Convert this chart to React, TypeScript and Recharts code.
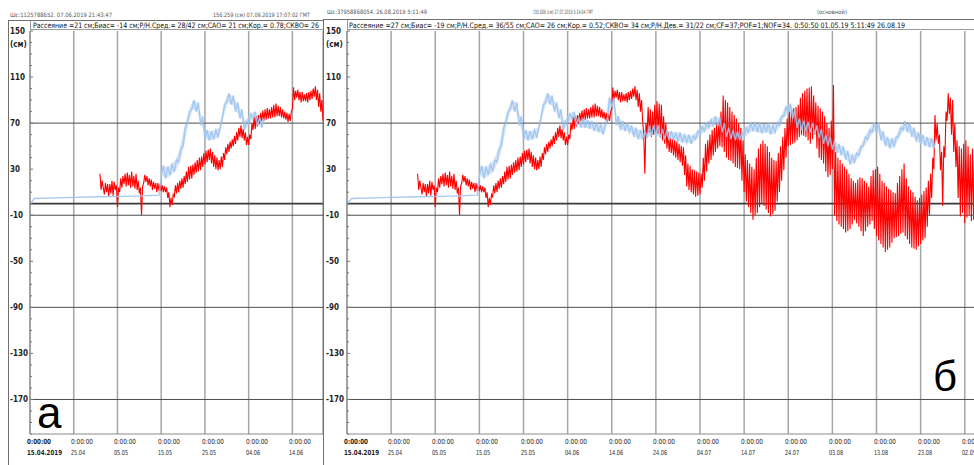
import React from "react";
import { ComposedChart, Line, Area, XAxis, YAxis, CartesianGrid, ReferenceLine } from "recharts";

const FONT = "'Liberation Sans Narrow', 'DejaVu Sans Condensed', 'Liberation Sans', Arial, sans-serif";

// x axis: days counted from 15.04.2019 0:00:00
const tickDays = [0, 10, 20, 30, 40, 50, 60, 70, 80, 90, 100, 110, 120, 130, 140];
const tickTimes = ["0:00:00", "0:00:00", "0:00:00", "0:00:00", "0:00:00", "0:00:00", "0:00:00", "0:00:00",
  "0:00:00", "0:00:00", "0:00:00", "0:00:00", "0:00:00", "0:00:00", "0:00:00"];
const tickDates = ["15.04.2019", "25.04", "05.05", "15.05", "25.05", "04.06", "14.06", "24.06",
  "04.07", "14.07", "24.07", "03.08", "13.08", "23.08", "02.09"];

// y axis, cm
const yLabels = [150, 110, 70, 30, -10, -50, -90, -130, -170];
const gridLevels = [70, -10, -90, -170];
const yMinorTicks = Array.from({ length: 36 }, (_, i) => 150 - 10 * i);

// measured level (cm), four readings a day: 0:00, 6:00, 12:00, 18:00
const RED_FIRST_DAY = 16;
const red00 = [
  26, 8, 6, 7, -3, 14, 15, 14, 13, 9, 18, 16, 12, 10, 11, 10, -3, 6, 10, 14,
  19, 22, 27, 29, 34, 38, 32, 29, 32, 43, 48, 52, 58, 55, 51, 64, 67, 72, 73, 74,
  75, 76, 74, 71, 82, 92, 88, 89, 90, 93, 84, 72, 60, 58, 62, 60, 52, 45, 42, 38,
  33, 15, 10, 6, 8, 20, 35, 42, 48, 49, 40, 37, 32, 30, 10, -3, -14, -8, 0, -5,
  -11, -6, 10, 29, 50, 52, 55, 60, 58, 52, 60, 40, 35, 23, 30, -15, -20, -25, -22, -14,
  -20, -28, -20, -15, -28, -35, -42, -38, -30, -28, -25, -31, -38, -40, -35, -30, -10, 30, 52, -2,
  72, 60, 32, -11, -17, -10, -14,
];
const red06 = [
  12, 18, 17, 19, 14, 24, 27, 28, 26, 14, 25, 22, 19, 18, 16, 14, 5, 16, 20, 24,
  32, 34, 38, 41, 46, 48, 42, 38, 44, 52, 56, 62, 68, 62, 60, 75, 77, 81, 83, 84,
  87, 84, 80, 78, 101, 99, 97, 96, 98, 102, 96, 60, 84, 80, 89, 86, 70, 57, 55, 52,
  49, 35, 30, 28, 26, 52, 60, 66, 72, 94, 88, 80, 74, 66, 43, 35, 30, 48, 55, 50,
  40, 37, 50, 66, 80, 83, 86, 96, 100, 102, 88, 83, 76, 66, 103, 40, 35, 30, 22, 18,
  23, 20, 15, 29, 32, 20, 15, 12, 9, 24, 35, 15, 10, 3, 8, 14, 26, 77, 60, 50,
  96, 90, 55, 48, 55, 43, 52,
];
const red12 = [
  20, 10, 9, 12, 10, 17, 16, 15, 12, -10, 19, 15, 13, 11, 10, 5, -1, 9, 13, 17,
  21, 25, 28, 32, 36, 35, 30, 30, 38, 45, 50, 55, 57, 51, 56, 65, 70, 72, 74, 75,
  76, 75, 73, 72, 90, 90, 89, 88, 91, 90, 80, 26, 62, 60, 61, 55, 48, 44, 40, 36,
  25, 12, 8, 7, 14, 28, 38, 45, 50, 45, 38, 35, 31, 20, 2, -8, -10, -3, -2, -8,
  -9, 2, 20, 40, 51, 53, 58, 59, 55, 56, 48, 38, 28, 25, -10, -18, -22, -24, -18, -17,
  -24, -24, -18, -22, -32, -38, -40, -34, -29, -26, -28, -35, -39, -37, -32, -20, 5, 55, 29, 40,
  78, 45, 5, -8, -12, -15, -12,
];
const red18 = [
  14, 17, 20, 16, 22, 26, 25, 24, 20, 15, 24, 21, 18, 17, 15, 10, 8, 18, 22, 28,
  33, 36, 40, 44, 47, 45, 40, 41, 49, 54, 59, 66, 65, 58, 70, 76, 79, 82, 82, 86,
  85, 82, 79, 80, 98, 97, 95, 97, 100, 99, 90, 70, 82, 86, 87, 76, 62, 56, 54, 50,
  42, 33, 29, 27, 40, 55, 64, 70, 80, 90, 84, 77, 70, 55, 38, 32, 40, 52, 52, 45,
  38, 44, 58, 74, 82, 84, 92, 98, 101, 94, 85, 80, 70, 72, 45, 38, 32, 26, 20, 21,
  22, 18, 24, 30, 26, 18, 13, 10, 18, 30, 22, 12, 6, 5, 11, 20, 40, 70, 45, 80,
  92, 70, 50, 52, 50, 48, 50,
];

// tide gauge reference (cm): quiet start, then twice-daily readings
const blueFlatDays = [0, 1, 8, 16, 24, 29.5];
const blueFlatCm = [0, 4.5, 5.3, 6, 6.6, 7.4];
const BLUE_FIRST_DAY = 30;
const blueAt00 = [
  24, 22, 25, 28, 36, 50, 70, 82, 80, 68, 56, 55, 56, 58, 75, 88, 86, 80, 74, 64,
  70, 74, 68, 66, 66, 65, 63, 62, 60, 72, 84, 68, 64, 63, 62, 58, 56, 56, 58, 60,
  59, 57, 56, 55, 55, 54, 53, 53, 52, 56, 60, 63, 66, 68, 67, 62, 58, 56, 55, 55,
  58, 62, 63, 62, 61, 62, 60, 62, 68, 76, 79, 74, 66, 64, 63, 62, 60, 57, 52, 50,
  47, 44, 42, 38, 34, 36, 42, 50, 56, 62, 62, 55, 50, 48, 50, 58, 64, 62, 58, 54,
  52, 50, 49, 48,
];
const blueAt12 = [
  33, 32, 34, 38, 48, 66, 80, 90, 88, 76, 64, 63, 64, 66, 86, 96, 94, 88, 82, 72,
  78, 80, 75, 74, 73, 72, 70, 69, 68, 92, 92, 76, 72, 70, 68, 66, 64, 63, 66, 68,
  68, 65, 64, 63, 62, 62, 60, 60, 59, 63, 67, 70, 73, 76, 75, 70, 66, 64, 63, 62,
  66, 70, 71, 70, 69, 70, 68, 70, 76, 84, 87, 82, 74, 72, 71, 70, 68, 65, 60, 58,
  55, 52, 50, 46, 42, 44, 50, 58, 64, 70, 70, 63, 58, 56, 58, 66, 72, 70, 66, 62,
  60, 58, 57, 56,
];

type Pt = { day: number; cm: number };
type Band = { day: number; range: [number, number] };

const redSeries: Pt[] = [];
red00.forEach((v, i) => {
  const d = RED_FIRST_DAY + i;
  redSeries.push({ day: d, cm: v });
  redSeries.push({ day: d + 0.25, cm: red06[i] });
  redSeries.push({ day: d + 0.5, cm: red12[i] });
  redSeries.push({ day: d + 0.75, cm: red18[i] });
});

const blueSeries: Pt[] = blueFlatDays.map((d, i) => ({ day: d, cm: blueFlatCm[i] }));
const blueBand: Band[] = [];
blueAt00.forEach((v, i) => {
  const d = BLUE_FIRST_DAY + i;
  blueSeries.push({ day: d, cm: v });
  blueSeries.push({ day: d + 0.5, cm: blueAt12[i] });
  blueBand.push({ day: d + 0.25, range: [v, blueAt12[i]] });
});

function CmTick(props: any) {
  const { y, payload, axisX } = props;
  const v = payload.value;
  const labelled = yLabels.includes(v);
  return (
    <g>
      <line x1={axisX} x2={axisX + (labelled ? 3 : 2)} y1={y} y2={y} stroke="#777" />
      {labelled && (
        <text x={10} y={y + 3} fontSize={8} fontWeight={700} fill="#1e1e1e" fontFamily={FONT}>
          {v}
        </text>
      )}
      {v === 150 && (
        <text x={10} y={y + 16} fontSize={8} fontWeight={700} fill="#1e1e1e" fontFamily={FONT}>
          (см)
        </text>
      )}
    </g>
  );
}

function DayTick(props: any) {
  const { x, payload } = props;
  const i = tickDays.indexOf(payload.value);
  const first = i === 0;
  const left = Math.round(x) - 3;
  return (
    <g fontFamily={FONT} fontSize={7} fill="#1e1e1e" fontWeight={first ? 700 : 400}>
      <text x={left} y={444} textLength={first ? 24 : 22} lengthAdjust="spacingAndGlyphs">
        {tickTimes[i]}
      </text>
      <text x={left} y={455} textLength={first ? 35 : 14} lengthAdjust="spacingAndGlyphs">
        {tickDates[i]}
      </text>
    </g>
  );
}

interface PanelProps {
  left: number;
  width: number;
  axisW: number;
  rightPad: number;
  lastDay: number;
  ticks: number[];
  red: Pt[];
  blue: Pt[];
  band: Band[];
}

function Panel({ left, width, axisW, rightPad, lastDay, ticks, red, blue, band }: PanelProps) {
  return (
    <div style={{ position: "absolute", left, top: 0 }}>
      <ComposedChart width={width} height={465} margin={{ top: 31, right: rightPad, bottom: 0, left: 0 }}>
        <CartesianGrid horizontal={false} stroke="#a6a6a6" strokeWidth={1.5} />
        <XAxis
          dataKey="day"
          type="number"
          domain={[0, lastDay]}
          ticks={ticks}
          interval={0}
          allowDataOverflow
          height={31}
          stroke="#8a8a8a"
          tickLine={false}
          tick={(p: any) => <DayTick {...p} />}
        />
        <YAxis
          type="number"
          domain={[-200, 150]}
          ticks={yMinorTicks}
          interval={0}
          allowDataOverflow
          width={axisW}
          stroke="#8a8a8a"
          tickLine={false}
          tick={(p: any) => <CmTick {...p} axisX={axisW} />}
        />
        {gridLevels.map((v) => (
          <ReferenceLine key={v} y={v} stroke="#4d4d4d" strokeWidth={1} />
        ))}
        <ReferenceLine y={0} stroke="#3a3a3a" strokeWidth={1.8} />
        <Line
          data={red}
          dataKey="cm"
          type="linear"
          stroke="#ff0000"
          strokeWidth={1.1}
          dot={false}
          isAnimationActive={false}
        />
        <Area
          data={band}
          dataKey="range"
          type="linear"
          stroke="none"
          fill="#b3cff2"
          fillOpacity={0.55}
          isAnimationActive={false}
        />
        <Line
          data={blue}
          dataKey="cm"
          type="linear"
          stroke="#9fc4ee"
          strokeWidth={1.4}
          strokeOpacity={0.9}
          dot={false}
          isAnimationActive={false}
        />
      </ComposedChart>
    </div>
  );
}

export default function App() {
  const leftRed = redSeries.filter((p) => p.day <= 67);
  const leftBlue = blueSeries.filter((p) => p.day <= 53.5);
  const leftBand = blueBand.filter((p) => p.day <= 53.5);
  return (
    <div
      style={{
        position: "absolute",
        left: 0,
        top: 0,
        width: 974,
        height: 465,
        overflow: "hidden",
        background: "#fff",
      }}
    >
      <Panel
        left={0}
        width={330}
        axisW={30}
        rightPad={7}
        lastDay={67}
        ticks={tickDays.filter((d) => d <= 60)}
        red={leftRed}
        blue={leftBlue}
        band={leftBand}
      />
      <Panel
        left={316}
        width={662}
        axisW={31}
        rightPad={0}
        lastDay={143}
        ticks={tickDays}
        red={redSeries}
        blue={blueSeries}
        band={blueBand}
      />
      <svg
        width={974}
        height={465}
        style={{ position: "absolute", left: 0, top: 0, pointerEvents: "none" }}
      >
        <g stroke="#707070" strokeWidth={1}>
          <line x1={8} y1={20.5} x2={323} y2={20.5} />
          <line x1={323} y1={19.5} x2={974} y2={19.5} />
          <line x1={8.5} y1={20} x2={8.5} y2={465} />
          <line x1={323.5} y1={19} x2={323.5} y2={465} />
        </g>
        <g stroke="#9a9a9a" strokeWidth={1}>
          <line x1={30} y1={29.5} x2={323} y2={29.5} />
          <line x1={347} y1={29.5} x2={974} y2={29.5} />
          <line x1={30.5} y1={21} x2={30.5} y2={30} />
          <line x1={347.5} y1={20} x2={347.5} y2={30} />
        </g>
        <g fontFamily={FONT} fill="#555" fontSize={6}>
          <text x={10} y={17} textLength={102} lengthAdjust="spacingAndGlyphs">
            Шс:1125788652. 07.06.2019 21:43:47
          </text>
          <text x={213} y={17} textLength={97} lengthAdjust="spacingAndGlyphs">
            156.259 (см) 07.09.2019 17:07:02 ГМТ
          </text>
          <text x={327} y={14} textLength={100} lengthAdjust="spacingAndGlyphs">
            Шс:37958868054. 26.08.2019 5:11:49
          </text>
          <text x={533} y={14} textLength={60} lengthAdjust="spacingAndGlyphs">
            155.006 (см) 27.07.2019 5:14:04 ГМТ
          </text>
          <text x={817} y={14} textLength={30} lengthAdjust="spacingAndGlyphs">
            (основной)
          </text>
        </g>
        <g fontFamily={FONT} fill="#111" fontSize={7.5}>
          <text x={33} y={27.5} textLength={286} lengthAdjust="spacingAndGlyphs">
            Рассеяние =21 см;Биас= -14 см;Р/Н.Сред.= 28/42 см;САО= 21 см;Кор.= 0.78;СКВО= 26
          </text>
          <text x={349} y={27.5} textLength={556} lengthAdjust="spacingAndGlyphs">
            Рассеяние =27 см;Биас= -19 см;Р/Н.Сред.= 36/55 см;САО= 26 см;Кор.= 0.52;СКВО= 34 см;Р/Н.Дев.= 31/22 см;CF=37;POF=1;NOF=34. 0:50:50 01.05.19 5:11:49 26.08.19
          </text>
        </g>
        <text x={37} y={428} fontSize={44} fontFamily="'Liberation Sans', Arial, sans-serif" fill="#000">
          а
        </text>
        <text x={933} y={391} fontSize={42} fontFamily="'Liberation Sans', Arial, sans-serif" fill="#000">
          б
        </text>
      </svg>
    </div>
  );
}
